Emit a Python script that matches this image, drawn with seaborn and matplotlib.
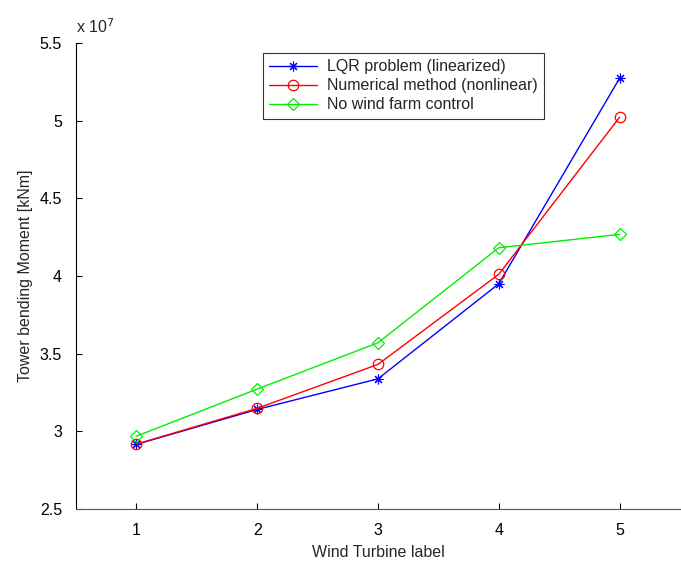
import matplotlib
matplotlib.use("Agg")
import matplotlib.pyplot as plt
import seaborn as sns
import pandas as pd

turbines = [1, 2, 3, 4, 5]
lqr = [2.916, 3.141, 3.338, 3.950, 5.273]
numerical = [2.918, 3.148, 3.431, 4.011, 5.022]
no_control = [2.969, 3.272, 3.570, 4.182, 4.268]
series_names = ["LQR problem (linearized)", "Numerical method (nonlinear)", "No wind farm control"]
y_ticks = [2.5, 3, 3.5, 4, 4.5, 5, 5.5]

sns.set_theme(style="white")
plt.rcParams['font.family'] = ['Liberation Sans', 'DejaVu Sans']
FS = 11.5

fig = plt.figure(figsize=(6.81, 5.63), dpi=100)
ax = fig.add_axes([76/681, 1-509/563, (680-76)/681, (509-43)/563])

styles = [
    (lqr, "#0000ff", (8, 2, 0), 7, 0.8),
    (numerical, "#ff0000", "o", 7.5, 0.9),
    (no_control, "#00ee00", "D", 6, 0.9),
]
for (vals, col, mk, ms, mew), name in zip(styles, series_names):
    df = pd.DataFrame({"turbine": turbines, "value": vals})
    sns.lineplot(data=df, x="turbine", y="value", ax=ax, color=col, marker=mk,
                 markersize=ms, markerfacecolor="none", markeredgecolor=col,
                 markeredgewidth=mew, linewidth=1.0, label=name)

ax.set_xlim(0.5, 5.5)
ax.set_ylim(2.5, 5.5)
ax.set_xticks(turbines)
ax.set_yticks(y_ticks)
ax.set_yticklabels([f"{t:g}" for t in y_ticks])
ax.tick_params(axis="x", direction="in", length=4, width=0.8, labelsize=FS, colors="black",
               bottom=True, pad=10)
ax.tick_params(axis="y", direction="in", length=4, width=0.8, labelsize=FS, colors="black",
               left=True, pad=10)
for s in ["top", "right"]:
    ax.spines[s].set_visible(False)
ax.spines["left"].set_color("black")
ax.spines["bottom"].set_color("#555555")
ax.spines["left"].set_linewidth(0.8)
ax.spines["bottom"].set_linewidth(0.8)

ax.set_xlabel("Wind Turbine label", fontsize=FS, labelpad=5)
ax.set_ylabel("Tower bending Moment [kNm]", fontsize=FS, labelpad=5)
ax.text(0.0, 1.015, r"x 10$^{7}$", transform=ax.transAxes, fontsize=FS, ha="left", va="bottom")

leg = ax.legend(loc="upper left", bbox_to_anchor=((263-76)/604, 1-(53-43)/466),
                frameon=True, fancybox=False, fontsize=FS, handlelength=3.0,
                borderpad=0.4, labelspacing=0.25, handletextpad=0.6, borderaxespad=0)
leg.get_frame().set_edgecolor("black")
leg.get_frame().set_linewidth(0.8)

fig.savefig("out.png", dpi=100)
